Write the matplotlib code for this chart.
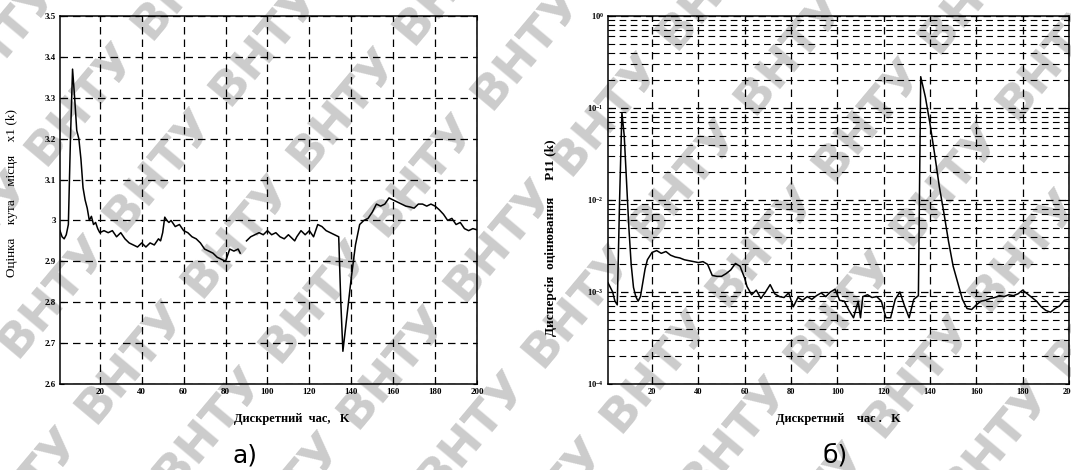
import numpy as np
from matplotlib import pyplot as plt
from matplotlib.ticker import FuncFormatter, LogLocator

# --- a) estimate of elevation angle x1(k)
k_a = [1, 2, 3, 4, 5, 6, 7, 8, 9, 10, 11, 12, 13, 14, 15, 16, 17, 18, 19, 20,
       22, 24, 26, 28, 30, 32, 34, 36, 38, 40, 42, 44, 46, 48, 49, 50, 51, 52, 53, 54,
       56, 58, 60, 62, 64, 66, 68, 70, 72, 74, 76, 78, 80, 81, 82, 84, 86, 87, 88,
       90, 92, 94, 96, 98, 100, 102, 104, 106, 108, 110, 112, 113, 114, 116, 118, 120,
       122, 124, 126, 128, 130, 132, 134, 135, 136, 138, 140, 142, 144, 146, 148, 150,
       152, 154, 156, 158, 160, 162, 164, 166, 168, 170, 172, 174, 176, 178, 180, 182,
       184, 186, 188, 190, 192, 194, 196, 198, 200]
x1 = [2.975, 2.96, 2.955, 2.965, 2.99, 3.2, 3.37, 3.3, 3.22, 3.2, 3.15, 3.08, 3.05, 3.03, 3.0,
      3.01, 2.99, 2.995, 2.98, 2.97,
      2.975, 2.97, 2.975, 2.96, 2.97, 2.955, 2.945, 2.94, 2.935, 2.945, 2.935, 2.945, 2.94,
      2.955, 2.95, 2.97, 3.008, 3.0, 2.995, 3.0,
      2.985, 2.99, 2.975, 2.97, 2.96, 2.955, 2.945, 2.93, 2.925, 2.92, 2.91, 2.905, 2.9,
      2.915, 2.93, 2.925, 2.93, 2.92, np.nan,
      2.95, 2.96, 2.965, 2.97, 2.965, 2.975, 2.965, 2.97, 2.96, 2.955, 2.965, 2.955, 2.95,
      2.96, 2.975, 2.965, 2.975,
      2.96, 2.99, 2.985, 2.975, 2.97, 2.965, 2.96, 2.8, 2.68, 2.77, 2.86, 2.94, 2.99, 3.0,
      3.005, 3.02,
      3.04, 3.035, 3.04, 3.055, 3.05, 3.045, 3.04, 3.035, 3.033, 3.03, 3.04, 3.04, 3.035,
      3.04, 3.035, 3.026,
      3.015, 3.0, 3.005, 2.99, 2.995, 2.98, 2.975, 2.98, 2.977]

# --- б) variance P11(k), log10 values
k_b = [1, 2, 3, 4, 5, 6, 7, 8, 9, 10, 11, 12, 13, 14, 15, 16, 17, 18, 20, 22, 24, 26, 28,
       30, 32, 34, 36, 38, 40, 42, 44, 46, 48, 50, 52, 54, 56, 58, 60, 61, 63, 65, 67, 69,
       71, 73, 75, 77, 79, 81, 83, 85, 87, 89, 91, 93, 95, 97, 99, 101, 103, 105, 107,
       109, 110, 111, 113, 115, 117, 119, 121, 123, 125, 127, 129, 131, 133, 135, 136,
       138, 140, 142, 144, 146, 148, 150, 152, 154, 156, 158, 160, 162, 164, 166, 168,
       170, 172, 174, 176, 178, 180, 182, 184, 186, 188, 190, 192, 194, 196, 198, 200]
p11_log = [-2.9, -2.95, -3.0, -3.1, -3.14, -2.0, -1.05, -1.3, -1.8, -2.3, -2.7, -2.95, -3.05,
           -3.1, -3.05, -2.9, -2.75, -2.65, -2.57, -2.55, -2.58, -2.56, -2.6,
           -2.62, -2.63, -2.65, -2.66, -2.67, -2.68, -2.67, -2.7, -2.82, -2.83, -2.83, -2.8,
           -2.76, -2.69, -2.72, -2.85, -2.94, -3.03, -2.98, -3.07, -3.0,
           -2.92, -3.02, -3.05, -3.06, -3.01, -3.16, -3.06, -3.09, -3.05, -3.08, -3.04,
           -3.01, -3.05, -3.0, -2.97, -3.09, -3.1, -3.2, -3.28,
           -3.1, -3.28, -3.05, -3.03, -3.06, -3.05, -3.1, -3.28, -3.28, -3.08, -3.0, -3.15,
           -3.28, -3.08, -3.04, -0.66,
           -0.88, -1.17, -1.5, -1.85, -2.14, -2.45, -2.72, -2.9, -3.08, -3.18, -3.19, -3.14,
           -3.1, -3.09, -3.07, -3.06,
           -3.04, -3.05, -3.03, -3.04, -3.02, -2.98, -3.02, -3.06, -3.1, -3.16, -3.2, -3.22,
           -3.18, -3.15, -3.09, -3.08]
p11 = 10 ** np.array(p11_log)

xticks = list(range(20, 201, 20))
yticks_a = [2.6, 2.7, 2.8, 2.9, 3.0, 3.1, 3.2, 3.3, 3.4, 3.5]

serif = 'Liberation Serif'
grid_ls = (0, (6, 4))
W, H = 1071, 470

fig = plt.figure(figsize=(W / 100, H / 100), dpi=100)
fig.patch.set_facecolor('white')

# watermark "ВНТУ" tiled along diagonals, behind the transparent axes
ang = np.deg2rad(50)
u = np.array([np.cos(ang), np.sin(ang)])
v = np.array([-np.sin(ang), np.cos(ang)])
for i in range(-12, 13):
    for j in range(-16, 16):
        c = np.array([500, 230]) + i * 165 * u + j * 102 * v
        if -40 < c[0] < W + 40 and -40 < c[1] < H + 40:
            fig.text(c[0] / W, c[1] / H, 'ВНТУ', fontsize=34, fontweight='bold',
                     color='#cccccc', rotation=50, ha='center', va='center',
                     rotation_mode='anchor', zorder=-5, family='DejaVu Sans')

ax1 = fig.add_axes([0.056, 0.183, 0.3894, 0.783])
ax2 = fig.add_axes([0.5677, 0.183, 0.4304, 0.783])

for ax in (ax1, ax2):
    ax.patch.set_alpha(0)
    ax.set_xlim(1, 200)
    ax.set_xticks(xticks)
    ax.xaxis.set_major_formatter(FuncFormatter(lambda v, p: '%d' % v))
    ax.tick_params(direction='in', length=3, width=0.8, top=True, right=True,
                   labelsize=6.5, pad=3)
    for s in ax.spines.values():
        s.set_linewidth(1.1)
        s.set_color('black')
    ax.grid(True, which='major', color='black', linestyle=grid_ls, linewidth=0.9)

# a)
ax1.plot(k_a, x1, color='black', linewidth=1.1)
ax1.set_ylim(2.6, 3.5)
ax1.set_yticks(yticks_a)
ax1.yaxis.set_major_formatter(FuncFormatter(lambda v, p: '%g' % v))
ax1.set_xlabel('Дискретний  час,   K', family=serif, fontweight='bold', fontsize=9)
ax1.xaxis.set_label_coords(0.556, -0.08)
ax1.set_ylabel('Оцінка    кута    місця    x1 (k)', family=serif, fontsize=9.5)
ax1.yaxis.set_label_coords(-0.1, 0.52)
for lab in ax1.get_xticklabels() + ax1.get_yticklabels():
    lab.set_family(serif)
    lab.set_fontweight('bold')

# б)
ax2.semilogy(k_b, p11, color='black', linewidth=1.1)
ax2.set_ylim(1e-4, 1e0)
ax2.yaxis.set_major_locator(LogLocator(base=10, numticks=10))
ax2.yaxis.set_minor_locator(LogLocator(base=10, subs=np.arange(2, 10), numticks=20))
ax2.grid(True, which='minor', axis='y', color='black', linestyle=grid_ls, linewidth=0.8)
ax2.tick_params(which='minor', direction='in', length=2, right=True)
ax2.set_xlabel('Дискретний    час .   K', family=serif, fontweight='bold', fontsize=9)
ax2.xaxis.set_label_coords(0.5, -0.08)
ax2.set_ylabel('Дисперсія  оцінювання     P11 (k)', family=serif, fontweight='bold',
               fontsize=9.5)
ax2.yaxis.set_label_coords(-0.11, 0.397)
for lab in ax2.get_xticklabels() + ax2.get_yticklabels():
    lab.set_family(serif)
    lab.set_fontweight('bold')
    lab.set_fontsize(6)

fig.text(245 / W, 1 - 455 / H, 'а)', fontsize=18, family='DejaVu Sans', ha='center', va='center')
fig.text(835 / W, 1 - 455 / H, 'б)', fontsize=18, family='DejaVu Sans', ha='center', va='center')

fig.savefig('out.png', dpi=100)
